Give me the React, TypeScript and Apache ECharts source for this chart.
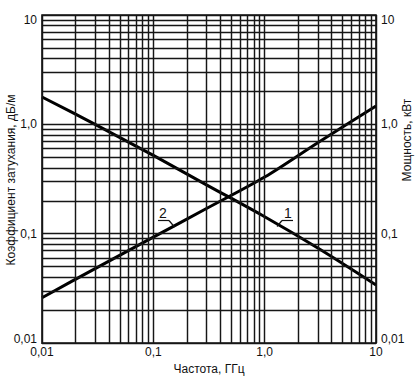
import React, { useEffect, useRef } from "react";
import * as echarts from "echarts";

// Frequency (GHz) points along the curves
const line1X = [0.01, 0.03, 0.1, 0.3, 1, 3, 10];
const line1Y = [1.78, 1.0, 0.52, 0.28, 0.143, 0.074, 0.034];
const line2X = [0.01, 0.03, 0.1, 0.3, 1, 3, 10];
const line2Y = [0.026, 0.048, 0.093, 0.17, 0.33, 0.68, 1.47];

// Grid lines (1..9 × each decade)
const decades = [0.01, 0.1, 1];
const multipliers = [1, 2, 3, 4, 5, 6, 7, 8, 9];
const tickLabels: Record<string, string> = { "-2": "0,01", "-1": "0,1", "0": "1,0", "1": "10" };

const xName = "Частота, ГГц";
const leftName = "Коэффициент затухания, дБ/м";
const rightName = "Мощность, кВт";

const FONT = "'Liberation Sans', Arial, sans-serif";
const INK = "#111";

function labelFor(v: number) {
  return tickLabels[String(Math.round(Math.log10(v)))] ?? "";
}

function yFormatter(v: number) {
  const k = Math.round(Math.log10(v));
  const s = labelFor(v);
  if (k === 1) return "{t|" + s + "}";
  if (k === -2) return "{b|" + s + "}";
  return "{n|" + s + "}";
}

const richY = {
  t: { fontSize: 12, fontFamily: FONT, color: INK, padding: [10, 0, 0, 0] },
  b: { fontSize: 12, fontFamily: FONT, color: INK, padding: [0, 0, 8, 0] },
  n: { fontSize: 12, fontFamily: FONT, color: INK },
};

export default function App() {
  const ref = useRef<HTMLDivElement>(null);
  useEffect(() => {
    if (!ref.current) return;
    const chart = echarts.init(ref.current, null, { renderer: "svg" });
    const gridVals: number[] = [];
    decades.forEach((d) => multipliers.forEach((m) => gridVals.push(+(d * m).toPrecision(3))));
    gridVals.push(10);
    const markData: any[] = [];
    gridVals.forEach((v) => {
      markData.push({ xAxis: v });
      markData.push({ yAxis: v });
    });
    const yAxisBase = {
      type: "log" as const,
      logBase: 10,
      min: 0.01,
      max: 10,
      axisLine: { show: false },
      axisTick: { show: false },
      splitLine: { show: false },
      axisLabel: { formatter: yFormatter, rich: richY, margin: 5 },
    };
    chart.setOption({
      animation: false,
      backgroundColor: "#fff",
      grid: { left: 42, right: 40, top: 15, bottom: 34, show: true, borderColor: INK, borderWidth: 1.6, backgroundColor: "transparent" },
      xAxis: {
        type: "log",
        logBase: 10,
        min: 0.01,
        max: 10,
        axisLine: { show: false },
        axisTick: { show: false },
        splitLine: { show: false },
        axisLabel: { formatter: labelFor, fontSize: 12, fontFamily: FONT, color: INK, margin: 3 },
        name: xName,
        nameLocation: "middle",
        nameGap: 19,
        nameTextStyle: { fontSize: 12, fontFamily: FONT, color: INK },
      },
      yAxis: [
        { ...yAxisBase, position: "left" },
        { ...yAxisBase, position: "right" },
      ],
      series: [
        {
          type: "line",
          data: [[0.01, 0.01]],
          symbol: "none",
          lineStyle: { opacity: 0 },
          silent: true,
          z: 1,
          markLine: {
            silent: true,
            symbol: ["none", "none"],
            label: { show: false },
            lineStyle: { type: "solid", color: "#161616", width: 1.45 },
            emphasis: { disabled: true },
            data: markData,
          },
        },
        {
          type: "line",
          data: line1X.map((x, i) => [x, line1Y[i]]),
          symbol: "none",
          smooth: 0.3,
          lineStyle: { color: "#000", width: 3 },
          z: 3,
        },
        {
          type: "line",
          data: line2X.map((x, i) => [x, line2Y[i]]),
          symbol: "none",
          smooth: 0.3,
          lineStyle: { color: "#000", width: 3 },
          z: 3,
        },
      ],
      graphic: [
        {
          type: "text",
          x: 11,
          y: 180,
          rotation: Math.PI / 2,
          style: { text: leftName, fontSize: 12, fontFamily: FONT, fill: INK, align: "center", verticalAlign: "middle" },
        },
        {
          type: "text",
          x: 407,
          y: 140,
          rotation: Math.PI / 2,
          style: { text: rightName, fontSize: 12, fontFamily: FONT, fill: INK, align: "center", verticalAlign: "middle" },
        },
        {
          type: "text",
          x: 163,
          y: 213,
          z: 10,
          style: { text: "2", fontSize: 14, fontFamily: FONT, fill: INK, align: "center", verticalAlign: "middle" },
        },
        { type: "line", z: 10, shape: { x1: 158, y1: 220.5, x2: 169, y2: 220.5 }, style: { stroke: INK, lineWidth: 1.2 } },
        { type: "line", z: 10, shape: { x1: 169, y1: 220.5, x2: 174.5, y2: 227 }, style: { stroke: INK, lineWidth: 1.2 } },
        {
          type: "text",
          x: 288,
          y: 213,
          z: 10,
          style: { text: "1", fontSize: 14, fontFamily: FONT, fill: INK, align: "center", verticalAlign: "middle" },
        },
        { type: "line", z: 10, shape: { x1: 282, y1: 220.5, x2: 293, y2: 220.5 }, style: { stroke: INK, lineWidth: 1.2 } },
        { type: "line", z: 10, shape: { x1: 282, y1: 220.5, x2: 277, y2: 226.5 }, style: { stroke: INK, lineWidth: 1.2 } },
      ],
    });
    return () => chart.dispose();
  }, []);
  return (
    <div
      ref={ref}
      style={{ position: "fixed", left: 0, top: 0, width: 416, height: 380, background: "#fff" }}
    />
  );
}
